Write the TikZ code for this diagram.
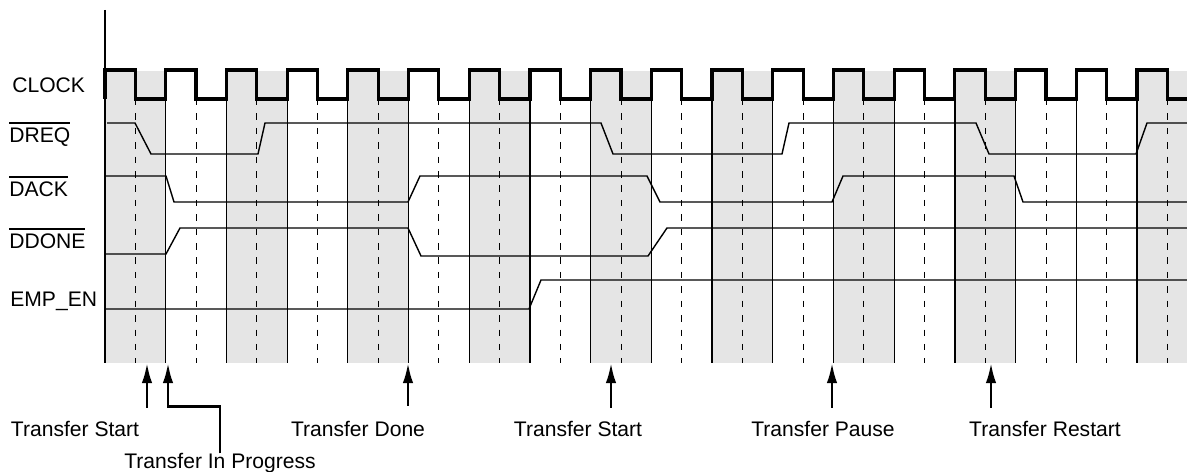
\documentclass[tikz,border=0pt]{standalone}
\usepackage{fontspec}
\setmainfont{Liberation Sans}
\usepackage{tikz}
\usetikzlibrary{arrows.meta}

\definecolor{bandgray}{RGB}{229,229,229}
\newlength\barw
\newcommand\barsig[1]{\settowidth\barw{#1}\rlap{\rule[10.8pt]{\barw}{1pt}}#1}

\begin{document}
\begin{tikzpicture}[x=0.02cm,y=-0.02cm,
    font=\fontsize{12}{14}\selectfont,
    lbl/.style={anchor=base west,inner sep=0pt},
    evtlbl/.style={anchor=base,inner sep=0pt},
    edge/.style={line width=0.7pt},
    tick/.style={line width=0.5pt,dash pattern=on 3.7pt off 4.5pt},
    clkline/.style={line width=1.8pt},
    sig/.style={line width=0.8pt},
    evt/.style={line width=1.5pt,-{Latex[length=11.5pt,width=6pt]}}]

      \def\per{60.706}
      \def\half{30.353}
      \def\ybot{363}

      \useasboundingbox (0,0) rectangle (1187,472);

      % shaded clock periods
      \foreach \k in {0,2,4,6,8,10,12,14,17}
        \fill[bandgray] (105+\k*\per,71) rectangle ++(\per,292);

      % rising edges (solid) and falling edges (dashed)
      \foreach \k in {1,...,17}
        \draw[edge] (105+\k*\per,99) -- (105+\k*\per,\ybot);
      \foreach \k in {0,...,17}
        \draw[tick] (105+\half+\k*\per,99) -- (105+\half+\k*\per,\ybot);
      \draw[edge] (105,10) -- (105,\ybot);

      % clock
      \draw[clkline] (105,99) foreach \k in {0,...,16} {-- ++(0,-29) -- ++(\half,0) -- ++(0,29) -- ++(\half,0)}
        -- ++(0,-29) -- ++(\half,0) -- ++(0,29) -- (1187,99);

      % signals
      \draw[sig] (107,123) -- (135,123) -- (151,154) -- (258,154) -- (265,123) -- (601,123) -- (613,154) -- (782,154)
        -- (789,123) -- (976,123) -- (989,154) -- (1136,154) -- (1147,123) -- (1187,123);
      \draw[sig] (105,176) -- (166,176) -- (174,202) -- (408,202) -- (420,176) -- (647,176) -- (660,202) -- (832,202)
        -- (843,176) -- (1014,176) -- (1023,202) -- (1187,202);
      \draw[sig] (105,254) -- (166,254) -- (180,228) -- (408,228) -- (421,256) -- (648,256) -- (667,228) -- (1187,228);
      \draw[sig] (105,309) -- (529,309) -- (541,280) -- (1187,280);

      \node[lbl] (clk) at (12,93) {CLOCK};
      \node[lbl] (dreq) at (9,143) {\barsig{DREQ}};
      \node[lbl] (dack) at (9,197) {\barsig{DACK}};
      \node[lbl] (ddone) at (9,249) {\barsig{DDONE}};
      \node[lbl] (empen) at (10,307) {EMP\_EN};

      \node[evtlbl] (ts1) at (75,437) {Transfer Start};
      \node[evtlbl] (tip) at (220,469) {Transfer In Progress};
      \node[evtlbl] (td) at (358,437) {Transfer Done};
      \node[evtlbl] (ts2) at (578,437) {Transfer Start};
      \node[evtlbl] (tp) at (823,437) {Transfer Pause};
      \node[evtlbl] (tr) at (1045,437) {Transfer Restart};

      \coordinate (a1) at (147,\ybot);
      \coordinate (a2) at (168,\ybot);
      \coordinate (a3) at (408,\ybot);
      \coordinate (a4) at (611,\ybot);
      \coordinate (a5) at (832,\ybot);
      \coordinate (a6) at (991,\ybot);

      \draw[evt] (a1) ++(0,45) -- (a1);
      \draw[evt] (tip.north) -- ++(0,-47) -| (a2);
      \draw[evt] (a3) ++(0,43) -- (a3);
      \draw[evt] (a4) ++(0,45) -- (a4);
      \draw[evt] (a5) ++(0,45) -- (a5);
      \draw[evt] (a6) ++(0,45) -- (a6);
    \end{tikzpicture}
\end{document}
